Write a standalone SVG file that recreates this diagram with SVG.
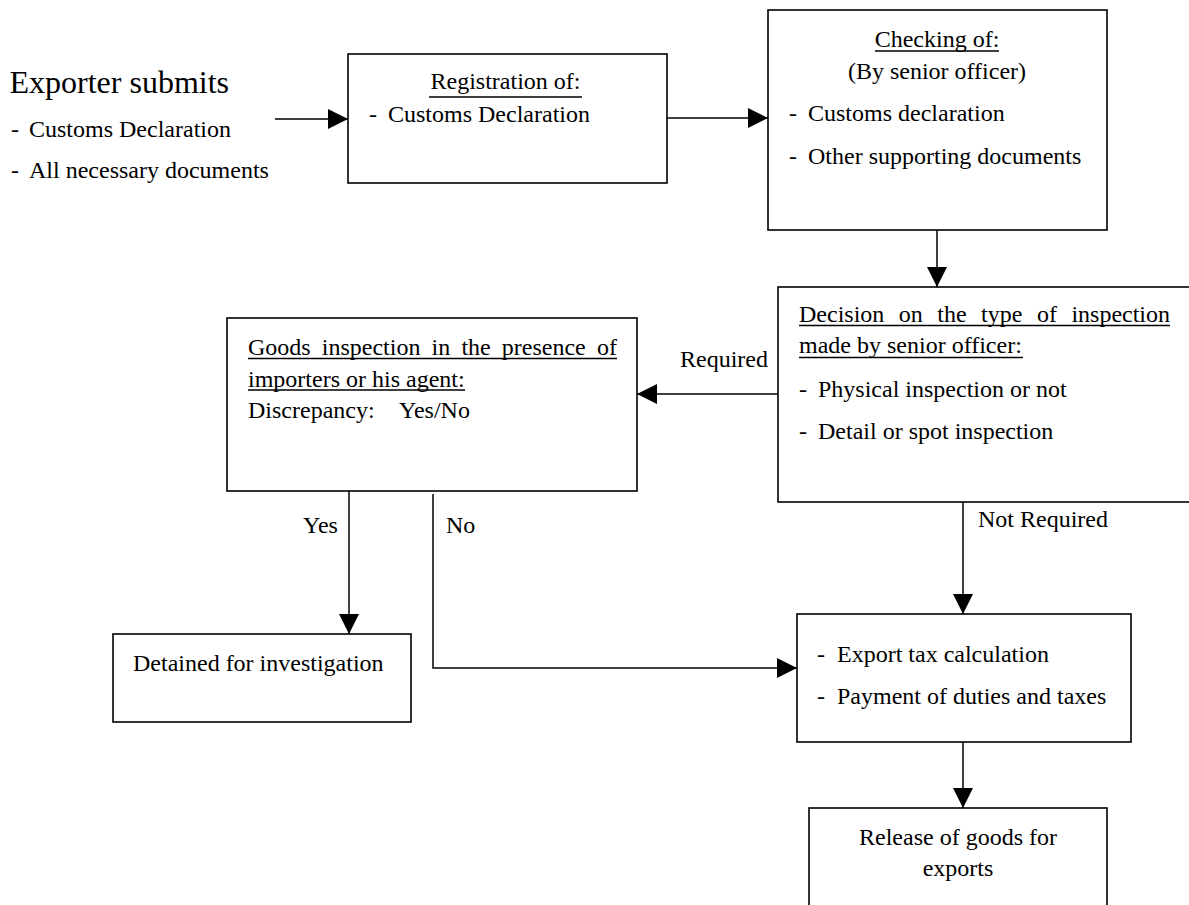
<svg xmlns="http://www.w3.org/2000/svg" width="1189" height="905" viewBox="0 0 1189 905">
  <style>
    text { font-family: "Liberation Serif", "Times New Roman", serif; font-size: 24px; fill: #000; }
    .title { font-size: 32px; }
    .mid { text-anchor: middle; }
    .box { fill: #fff; stroke: #000; stroke-width: 1.6; }
    .ul { stroke: #000; stroke-width: 1.3; }
    .conn { fill: none; stroke: #000; stroke-width: 1.5; }
  </style>
  <defs>
    <marker id="arrow" markerUnits="userSpaceOnUse" markerWidth="20" markerHeight="20" refX="20" refY="10" orient="auto">
      <path d="M0,0 L20,10 L0,20 Z" fill="#000"/>
    </marker>
  </defs>

  <rect width="1189" height="905" fill="#fff"/>

  <!-- Starting point: what the exporter hands in -->
  <g id="exporter">
    <text class="title" x="9.5" y="93">Exporter submits</text>
    <text x="11" y="137">-</text>
    <text x="29" y="137">Customs Declaration</text>
    <text x="11" y="178">-</text>
    <text x="29" y="178">All necessary documents</text>
  </g>

  <g id="registration">
    <rect class="box" x="348" y="54" width="319" height="129"/>
    <text class="mid" x="505.5" y="89">Registration of:</text>
    <line class="ul" x1="429" y1="97" x2="582" y2="97"/>
    <text x="369" y="122">-</text>
    <text x="388" y="122">Customs Declaration</text>
  </g>

  <g id="checking">
    <rect class="box" x="768" y="10" width="339" height="220"/>
    <text class="mid" x="937" y="46.5">Checking of:</text>
    <line class="ul" x1="875" y1="51" x2="999" y2="51"/>
    <text class="mid" x="937" y="79">(By senior officer)</text>
    <text x="789" y="121">-</text>
    <text x="808" y="121">Customs declaration</text>
    <text x="789" y="164">-</text>
    <text x="808" y="164">Other supporting documents</text>
  </g>

  <g id="decision">
    <rect class="box" x="778" y="287" width="420" height="215"/>
    <text y="322"><tspan x="799">Decision</tspan><tspan x="898.8">on</tspan><tspan x="937.3">the</tspan><tspan x="981.1">type</tspan><tspan x="1036.9">of</tspan><tspan x="1071.4">inspection</tspan></text>
    <line class="ul" x1="799" y1="325.5" x2="1170" y2="325.5"/>
    <text x="799" y="353">made by senior officer:</text>
    <line class="ul" x1="799" y1="357.5" x2="1023" y2="357.5"/>
    <text x="799" y="397">-</text>
    <text x="818" y="397">Physical inspection or not</text>
    <text x="799" y="439">-</text>
    <text x="818" y="439">Detail or spot inspection</text>
  </g>

  <g id="goods-inspection">
    <rect class="box" x="227" y="318" width="410" height="173"/>
    <text y="355"><tspan x="248">Goods</tspan><tspan x="321.8">inspection</tspan><tspan x="431.6">in</tspan><tspan x="461.4">the</tspan><tspan x="501.8">presence</tspan><tspan x="596.9">of</tspan></text>
    <line class="ul" x1="248" y1="358.5" x2="617" y2="358.5"/>
    <text x="248" y="386.5">importers or his agent:</text>
    <line class="ul" x1="248" y1="390" x2="465" y2="390"/>
    <text x="248" y="418">Discrepancy:</text>
    <text x="399" y="418">Yes/No</text>
  </g>

  <g id="detained">
    <rect class="box" x="113" y="634" width="298" height="88"/>
    <text x="133" y="671">Detained for investigation</text>
  </g>

  <g id="tax-payment">
    <rect class="box" x="797" y="614" width="334" height="128"/>
    <text x="817" y="662">-</text>
    <text x="837" y="662">Export tax calculation</text>
    <text x="817" y="704">-</text>
    <text x="837" y="704">Payment of duties and taxes</text>
  </g>

  <g id="release">
    <rect class="box" x="809" y="808" width="298" height="120"/>
    <text class="mid" x="958" y="845">Release of goods for</text>
    <text class="mid" x="958" y="876">exports</text>
  </g>

  <!-- Flow between the steps -->
  <g id="connectors">
    <path class="conn" d="M275,119 H348" marker-end="url(#arrow)"/>
    <path class="conn" d="M667,118 H768" marker-end="url(#arrow)"/>
    <path class="conn" d="M937,230 V287" marker-end="url(#arrow)"/>
    <path class="conn" d="M778,394 H637" marker-end="url(#arrow)"/>
    <path class="conn" d="M349,491 V634" marker-end="url(#arrow)"/>
    <path class="conn" d="M433,494 V668 H797" marker-end="url(#arrow)"/>
    <path class="conn" d="M963,502 V614" marker-end="url(#arrow)"/>
    <path class="conn" d="M963,742 V808" marker-end="url(#arrow)"/>
    <text x="680" y="367">Required</text>
    <text x="978" y="527">Not Required</text>
    <text x="303" y="533">Yes</text>
    <text x="446" y="533">No</text>
  </g>
</svg>
